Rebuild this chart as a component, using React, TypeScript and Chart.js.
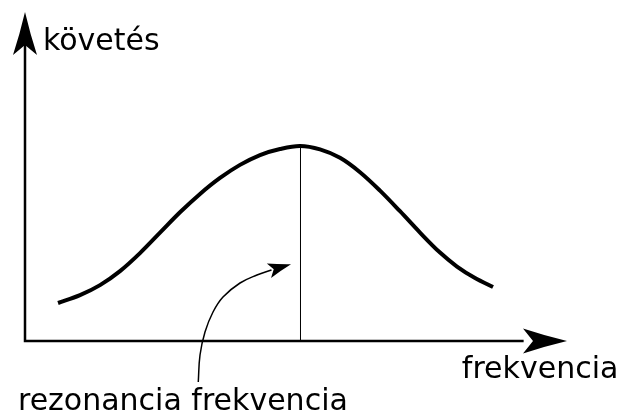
import React, { useEffect, useRef } from "react";
import { Chart, registerables } from "chart.js";
Chart.register(...registerables);

// Abstract units: x = frequency (0 at origin, 100 at arrow tip), y = response (0 at axis, 100 at arrow tip)
const curveX = [6.09, 10.15, 13.84, 17.53, 21.22, 24.91, 28.6, 32.29, 35.98, 39.67, 43.36, 47.05, 50.74, 54.43, 58.12, 61.81, 65.5, 69.19, 72.88, 76.57, 79.7, 83.03, 86.35];
const curveY = [11.55, 13.95, 16.99, 21.25, 26.72, 32.92, 39.12, 44.71, 49.57, 53.53, 56.53, 58.36, 59.27, 58.24, 55.68, 51.31, 45.71, 39.45, 32.95, 26.87, 22.64, 19.15, 16.41];
const resonanceX = 50.83;
const resonanceY = 59.27;
const pointerX = [31.97, 32.29, 33.21, 34.69, 36.53, 39.67, 42.8, 45.48];
const pointerY = [-12.46, -4.26, 2.74, 8.81, 13.37, 17.63, 20.06, 21.58];
const pointerTipX = 49.08;
const pointerTipY = 23.31;
const axisEndX = 100;
const axisEndY = 100;
const yLabel = "követés";
const xLabel = "frekvencia";
const pointerLabel = "rezonancia frekvencia";

const FONT = "30px 'DejaVu Sans'";

function drawArrowHead(ctx: CanvasRenderingContext2D, tx: number, ty: number, ang: number, L: number, W: number, N: number) {
  const dx = Math.cos(ang), dy = Math.sin(ang);
  const px = -dy, py = dx;
  const bx = tx - L * dx, by = ty - L * dy;
  ctx.beginPath();
  ctx.moveTo(tx, ty);
  ctx.quadraticCurveTo(tx - L * 0.5 * dx + W * 0.42 * px, ty - L * 0.5 * dy + W * 0.42 * py, bx + W * px, by + W * py);
  ctx.lineTo(tx - (L - N) * dx, ty - (L - N) * dy);
  ctx.lineTo(bx - W * px, by - W * py);
  ctx.quadraticCurveTo(tx - L * 0.5 * dx - W * 0.42 * px, ty - L * 0.5 * dy - W * 0.42 * py, tx, ty);
  ctx.closePath();
  ctx.fill();
}

const decor = {
  id: "decor",
  afterDatasetsDraw(chart: any) {
    const ctx = chart.ctx as CanvasRenderingContext2D;
    const xs = chart.scales.x, ys = chart.scales.y;
    const X = (v: number) => xs.getPixelForValue(v);
    const Y = (v: number) => ys.getPixelForValue(v);
    ctx.save();
    ctx.fillStyle = "#000";
    // axis arrowheads
    drawArrowHead(ctx, X(0), Y(axisEndY), -Math.PI / 2, 43, 12, 10);
    drawArrowHead(ctx, X(axisEndX), Y(0), 0, 44, 12.5, 10);
    // pointer arrowhead
    const n = pointerX.length;
    const tx = X(pointerTipX), ty = Y(pointerTipY);
    const sx = X(pointerX[n - 1]), sy = Y(pointerY[n - 1]);
    drawArrowHead(ctx, tx, ty, Math.atan2(ty - sy, tx - sx), 23, 7.5, 5);
    // labels
    ctx.font = FONT;
    ctx.textBaseline = "alphabetic";
    ctx.textAlign = "left";
    ctx.fillText(yLabel, X(3.3), Y(88.4));
    ctx.fillText(xLabel, X(80.6), Y(-11.2));
    ctx.fillText(pointerLabel, X(-1.3), Y(-21.0));
    ctx.restore();
  },
};

export default function App() {
  const ref = useRef<HTMLCanvasElement>(null);
  useEffect(() => {
    const canvas = ref.current!;
    const chart = new Chart(canvas, {
      type: "line",
      data: {
        datasets: [
          {
            data: curveX.map((x, i) => ({ x, y: curveY[i] })),
            borderColor: "#000",
            borderWidth: 4,
            pointRadius: 0,
            tension: 0.35,
            fill: false,
            borderCapStyle: "butt",
            clip: false as any,
          },
          {
            data: [{ x: resonanceX, y: 0 }, { x: resonanceX, y: resonanceY }],
            borderColor: "#000",
            borderWidth: 1,
            pointRadius: 0,
            tension: 0,
          },
          {
            data: [{ x: 0, y: axisEndY - 8 }, { x: 0, y: 0 }, { x: axisEndX - 8, y: 0 }],
            borderColor: "#000",
            borderWidth: 2.5,
            pointRadius: 0,
            tension: 0,
            borderJoinStyle: "miter",
          },
          {
            data: pointerX.map((x, i) => ({ x, y: pointerY[i] })),
            borderColor: "#000",
            borderWidth: 1.5,
            pointRadius: 0,
            tension: 0.4,
            clip: false as any,
          },
        ],
      },
      options: {
        animation: false,
        responsive: false,
        parsing: false as any,
        layout: { padding: 0 },
        plugins: { legend: { display: false }, tooltip: { enabled: false } },
        events: [],
        scales: {
          x: { type: "linear", display: false, min: -25 / 5.42, max: 596 / 5.42 },
          y: { type: "linear", display: false, min: -76 / 3.29, max: 341 / 3.29 },
        },
      },
      plugins: [decor],
    });
    return () => chart.destroy();
  }, []);
  return (
    <div style={{ position: "absolute", left: 0, top: 0, width: 621, height: 417, background: "#fff" }}>
      <canvas ref={ref} width={621} height={417} style={{ display: "block" }} />
    </div>
  );
}
